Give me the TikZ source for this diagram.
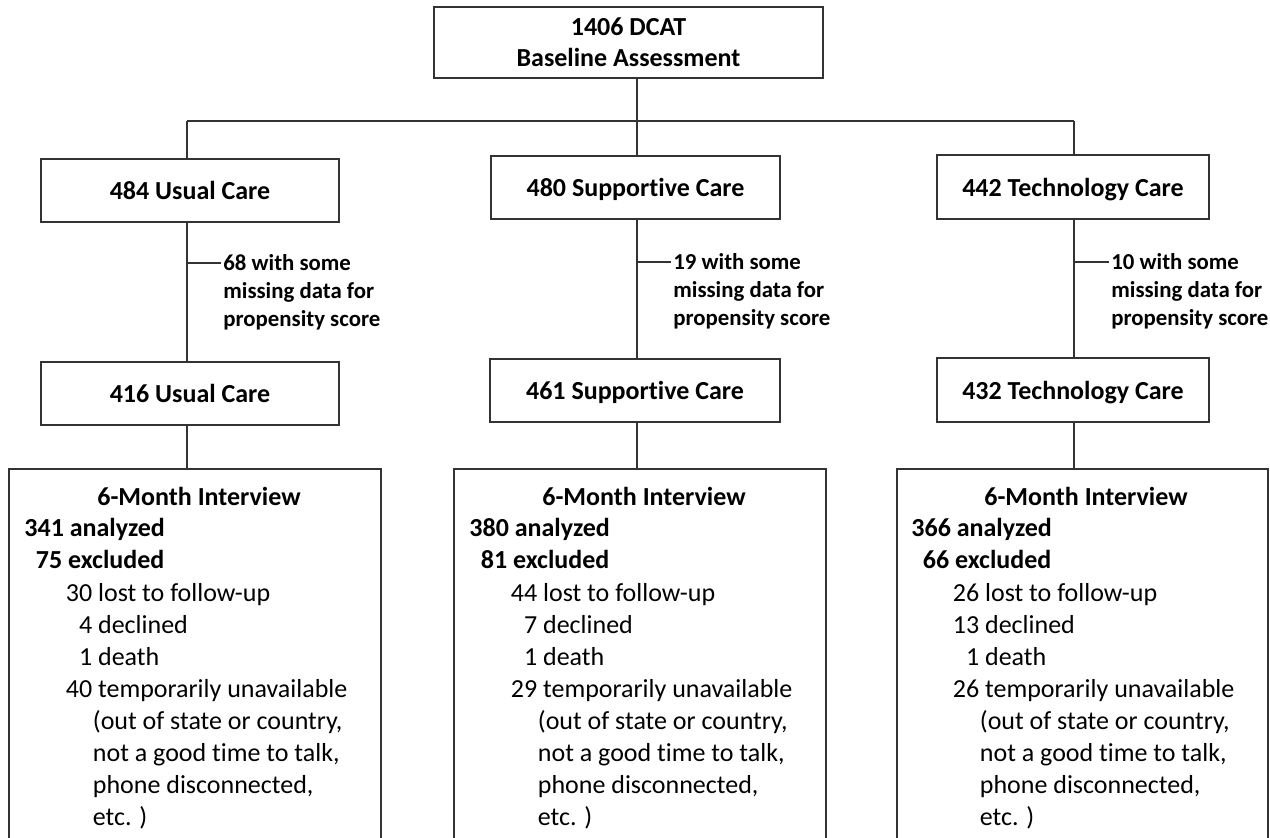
\documentclass[tikz,border=0pt]{standalone}
\usepackage{fontspec}
\setmainfont[Ligatures=NoCommon]{Carlito}
\tikzset{
  conn/.style={draw=black!80, line width=0.6pt},
  boxnode/.style={draw=black!80, line width=0.6pt, rectangle, inner sep=0pt,
    font=\fontsize{13}{15.5}\selectfont\bfseries, text height=11pt, text depth=1.5pt, align=center},
  topnode/.style={draw=black!80, line width=0.6pt, rectangle, inner sep=0pt,
    font=\fontsize{13}{15.5}\selectfont\bfseries, align=center},
  panel/.style={draw=black!80, line width=0.6pt, rectangle, inner sep=0pt},
  note/.style={font=\fontsize{11.4}{14}\selectfont\bfseries, align=left, inner sep=0pt, anchor=north west},
  lntxt/.style={font=\fontsize{13}{16}\selectfont, inner sep=0pt, anchor=base west},
  lnbold/.style={lntxt, font=\fontsize{13}{16}\selectfont\bfseries},
}
% #1 prefix, #2 x of "analyzed", #3 heading centre x, #4 analyzed, #5 excluded, #6 lost, #7 declined, #8 death, #9 temp
\newcommand\ivcol[9]{%
  \node[lnbold, anchor=base] (#1h) at (#3,506) {6-Month Interview};
  \node[lnbold] (#1a) at (#2,537) {#4 analyzed};
  \node[lnbold] (#1e) at ({#2+11.5},569) {#5 excluded};
  \node[lntxt] (#1l) at ({#2+41.5},602) {#6 lost to follow-up};
  \node[lntxt] (#1d) at ({#2+41.5},634) {#7 declined};
  \node[lntxt] (#1x) at ({#2+41.5},666) {#8 death};
  \node[lntxt] (#1t) at ({#2+41.5},698) {#9 temporarily unavailable};
  \node[lntxt] (#1p) at ({#2+68.5},730) {(out of state or country,};
  \node[lntxt] (#1n) at ({#2+68.5},762) {not a good time to talk,};
  \node[lntxt] (#1q) at ({#2+68.5},794) {phone disconnected,};
  \node[lntxt] (#1c) at ({#2+68.5},826) {etc. )};
}
\begin{document}
\begin{tikzpicture}[x=0.5pt,y=-0.5pt]
\clip (0,0) rectangle (1270,838);
\fill[white] (0,0) rectangle (1270,838);

% boxes
\node[topnode, minimum width=194.5pt, minimum height=35.5pt] (top) at (628.5,42.5) {1406 DCAT\\Baseline Assessment};
\node[boxnode, minimum width=149pt, minimum height=31.5pt] (uc1) at (190,190.5) {484 Usual Care};
\node[boxnode, minimum width=144.5pt, minimum height=31.5pt] (sc1) at (635.5,187.5) {480 Supportive Care};
\node[boxnode, minimum width=136pt, minimum height=32pt] (tc1) at (1073,187) {442 Technology Care};
\node[boxnode, minimum width=149pt, minimum height=31.5pt] (uc2) at (190,393.5) {416 Usual Care};
\node[boxnode, minimum width=145pt, minimum height=31.5pt] (sc2) at (635,390.5) {461 Supportive Care};
\node[boxnode, minimum width=136pt, minimum height=32pt] (tc2) at (1073,390) {432 Technology Care};

\node[panel, minimum width=186pt, minimum height=205.5pt] (ivL) at (195,674.5) {};
\node[panel, minimum width=186pt, minimum height=205.5pt] (ivM) at (640,674.5) {};
\node[panel, minimum width=185.5pt, minimum height=205.5pt] (ivR) at (1082.5,674.5) {};

% junctions
\coordinate (jL) at (187,121);
\coordinate (jM) at (637,121);
\coordinate (jR) at (1074,121);
\draw[conn] (top.south -| jM) -- (jM);
\draw[conn] (jL) -- (jR);
\draw[conn] (jL) -- (uc1.north -| jL);
\draw[conn] (jM) -- (sc1.north -| jM);
\draw[conn] (jR) -- (tc1.north -| jR);
\draw[conn] (uc1.south -| jL) -- (uc2.north -| jL);
\draw[conn] (sc1.south -| jM) -- (sc2.north -| jM);
\draw[conn] (tc1.south -| jR) -- (tc2.north -| jR);
\draw[conn] (uc2.south -| jL) -- (ivL.north -| jL);
\draw[conn] (sc2.south -| jM) -- (ivM.north -| jM);
\draw[conn] (tc2.south -| jR) -- (ivR.north -| jR);

% exclusion notes
\coordinate (bL) at (187,263);
\coordinate (bM) at (637,262);
\coordinate (bR) at (1074,262);
\node[note] (nL) at (223,250.6) {\strut 68 with some\\missing data for\\propensity score};
\node[note] (nM) at (673,249.6) {\strut 19 with some\\missing data for\\propensity score};
\node[note] (nR) at (1111,249.6) {\strut 10 with some\\missing data for\\propensity score};
\draw[conn] (bL) -- ([xshift=-1pt]bL -| nL.west);
\draw[conn] (bM) -- ([xshift=-1pt]bM -| nM.west);
\draw[conn] (bR) -- ([xshift=-1pt]bR -| nR.west);

% interview texts
\ivcol{L}{24}{199}{341}{75}{30}{\phantom{0}4}{\phantom{0}1}{40}
\ivcol{M}{469}{644}{380}{81}{44}{\phantom{0}7}{\phantom{0}1}{29}
\ivcol{R}{911}{1086}{366}{66}{26}{13}{\phantom{0}1}{26}
\end{tikzpicture}
\end{document}
